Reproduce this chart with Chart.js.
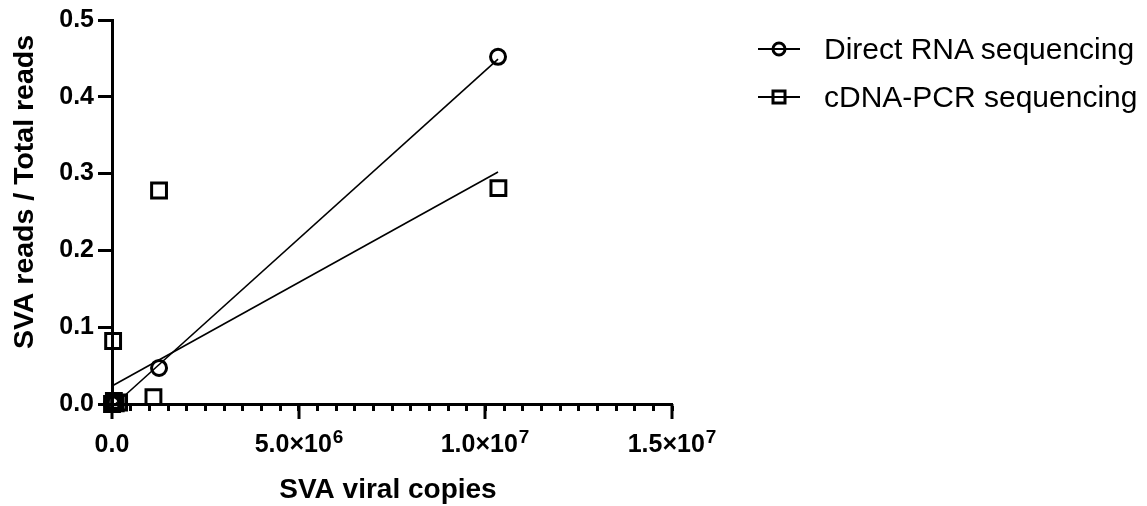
<!DOCTYPE html>
<html>
<head>
<meta charset="utf-8">
<script src="https://cdn.jsdelivr.net/npm/chart.js@4"></script>
<style>
  html, body { margin: 0; padding: 0; background: #fff; }
  #wrap { position: relative; width: 1147px; height: 506px; }
  #legend { position: absolute; left: 758px; top: 25px; font-family: "Liberation Sans", Arial, sans-serif; font-size: 30px; color: #000; }
  .row { height: 48px; line-height: 48px; display: flex; align-items: center; white-space: nowrap; }
  .row svg { margin-right: 24px; flex: none; }
</style>
</head>
<body>
<div id="wrap">
  <canvas id="chart" width="1147" height="506"></canvas>
  <div id="legend">
    <div class="row">
      <svg width="42" height="20"><line x1="0" y1="10" x2="42" y2="10" stroke="#000" stroke-width="2"/><circle cx="21" cy="10" r="6" fill="none" stroke="#000" stroke-width="3"/></svg>
      <span>Direct RNA sequencing</span>
    </div>
    <div class="row">
      <svg width="42" height="20"><line x1="0" y1="10" x2="42" y2="10" stroke="#000" stroke-width="2"/><rect x="15" y="4" width="12" height="12" fill="none" stroke="#000" stroke-width="3"/></svg>
      <span>cDNA-PCR sequencing</span>
    </div>
  </div>
</div>
<script>
document.addEventListener('DOMContentLoaded', function () {
    // SVA viral copies vs SVA reads / Total reads
    const directX = [0, 80000, 1260000, 10340000];
    const directY = [0, 0.001, 0.047, 0.452];
    const cdnaX = [0, 50000, 100000, 190000, 30000, 1110000, 1260000, 10350000];
    const cdnaY = [0, 0.004, 0.001, 0.002, 0.082, 0.009, 0.278, 0.281];

    // linear fit endpoints
    const directFitX = [90000, 10340000];
    const directFitY = [0, 0.449];
    const cdnaFitX = [0, 10340000];
    const cdnaFitY = [0.0235, 0.302];

    // labelled x values: value, mantissa text, exponent
    const xMajor = [0, 5000000, 10000000, 15000000];
    const xMantissa = ['0.0', '5.0×10', '1.0×10', '1.5×10'];
    const xExponent = ['', '6', '7', '7'];

    const FONT = '"Liberation Sans", Arial, sans-serif';
    const toPoints = (xs, ys) => xs.map((x, i) => ({ x: x, y: ys[i] }));

    // long ticks, x labels with superscripts, axis titles
    const axisText = {
        id: 'axisText',
        afterDraw(chart) {
            const ctx = chart.ctx;
            const xs = chart.scales.x;
            const area = chart.chartArea;
            ctx.save();
            ctx.strokeStyle = '#000';
            ctx.fillStyle = '#000';
            ctx.lineWidth = 3;
            xMajor.forEach((v, i) => {
                const px = Math.round(xs.getPixelForValue(v));
                ctx.beginPath();
                ctx.moveTo(px, area.bottom);
                ctx.lineTo(px, area.bottom + 15);
                ctx.stroke();

                ctx.font = 'bold 25px ' + FONT;
                const w1 = ctx.measureText(xMantissa[i]).width;
                ctx.font = 'bold 19px ' + FONT;
                const w2 = xExponent[i] ? ctx.measureText(xExponent[i]).width + 1 : 0;
                const left = px - (w1 + w2) / 2;
                ctx.textAlign = 'left';
                ctx.textBaseline = 'alphabetic';
                ctx.font = 'bold 25px ' + FONT;
                ctx.fillText(xMantissa[i], left, 452);
                if (xExponent[i]) {
                    ctx.font = 'bold 19px ' + FONT;
                    ctx.fillText(xExponent[i], left + w1 + 1, 443);
                }
            });

            ctx.font = 'bold 28px ' + FONT;
            ctx.textAlign = 'center';
            ctx.textBaseline = 'alphabetic';
            ctx.fillText('SVA viral copies', 388, 498);

            ctx.translate(33, 192);
            ctx.rotate(-Math.PI / 2);
            ctx.font = 'bold 28.5px ' + FONT;
            ctx.fillText('SVA reads / Total reads', 0, 0);
            ctx.restore();
        }
    };

    const ctx = document.getElementById('chart').getContext('2d');
    new Chart(ctx, {
        type: 'scatter',
        data: {
            datasets: [{
                label: 'Direct RNA sequencing',
                data: toPoints(directX, directY),
                pointStyle: 'circle',
                pointRadius: 7.5,
                pointBorderWidth: 3,
                pointBackgroundColor: 'rgba(0,0,0,0)',
                pointBorderColor: '#000',
                order: 0,
                clip: false
            }, {
                label: 'cDNA-PCR sequencing',
                data: toPoints(cdnaX, cdnaY),
                pointStyle: 'rect',
                pointRadius: 10.5,
                pointBorderWidth: 3,
                pointBackgroundColor: 'rgba(0,0,0,0)',
                pointBorderColor: '#000',
                order: 0,
                clip: false
            }, {
                type: 'line',
                label: 'Direct fit',
                data: toPoints(directFitX, directFitY),
                borderColor: '#000',
                borderWidth: 1.6,
                pointRadius: 0,
                fill: false,
                order: 1,
                clip: false
            }, {
                type: 'line',
                label: 'cDNA fit',
                data: toPoints(cdnaFitX, cdnaFitY),
                borderColor: '#000',
                borderWidth: 1.6,
                pointRadius: 0,
                fill: false,
                order: 1,
                clip: false
            }]
        },
        options: {
            responsive: false,
            animation: false,
            layout: { padding: { top: 20, right: 475, bottom: 0, left: 0 } },
            plugins: {
                legend: { display: false },
                tooltip: { enabled: false }
            },
            scales: {
                x: {
                    type: 'linear',
                    min: 0,
                    max: 15000000,
                    afterFit: scale => { scale.height = 102; },
                    border: { display: true, color: '#000', width: 3 },
                    grid: { display: true, drawOnChartArea: false, drawTicks: true, tickLength: 7, tickWidth: 3, tickColor: '#000' },
                    ticks: {
                        stepSize: 500000,
                        autoSkip: false,
                        maxRotation: 0,
                        callback: () => ''
                    }
                },
                y: {
                    min: 0,
                    max: 0.5,
                    afterFit: scale => { scale.width = 112; },
                    border: { display: true, color: '#000', width: 3 },
                    grid: { display: true, drawOnChartArea: false, drawTicks: true, tickLength: 14, tickWidth: 3, tickColor: '#000' },
                    ticks: {
                        stepSize: 0.1,
                        padding: 4,
                        color: '#000',
                        font: { family: FONT, size: 25, weight: 'bold' },
                        callback: value => value.toFixed(1)
                    }
                }
            }
        },
        plugins: [axisText]
    });
});
</script>
</body>
</html>
